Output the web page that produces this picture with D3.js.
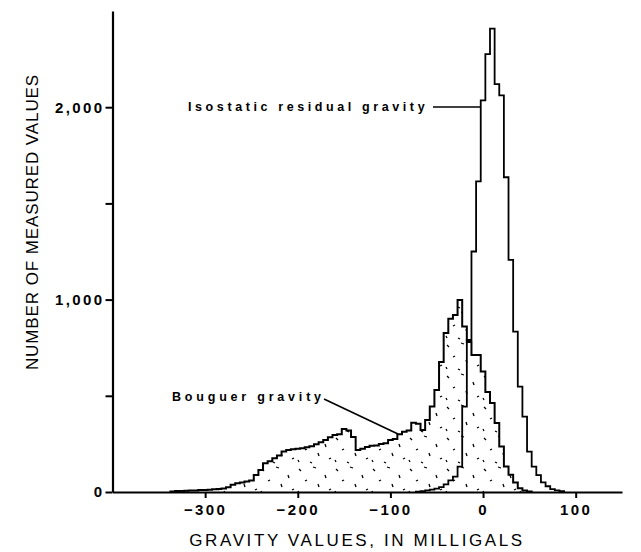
<!DOCTYPE html>
<html>
<head>
<meta charset="utf-8">
<script src="https://cdn.jsdelivr.net/npm/d3@7"></script>
<style>
  body { margin: 0; background: #fff; }
  svg { display: block; }
  text { font-family: "Liberation Sans", Arial, sans-serif; fill: #000; }
</style>
</head>
<body>
<svg id="chart" width="641" height="552"></svg>
<script>
// bin centres in milligals, 5 mgal wide
var bouguerBins = [-335,-330,-325,-320,-315,-310,-305,-300,-295,-290,-285,-280,-275,-270,-265,-260,-255,-250,-245,-240,
  -235,-230,-225,-220,-215,-210,-205,-200,-195,-190,-185,-180,-175,-170,-165,-160,-155,-150,-145,-140,
  -135,-130,-125,-120,-115,-110,-105,-100,-95,-90,-85,-80,-75,-70,-65,-60,-55,-50,-45,-40,
  -35,-30,-25,-20,-15,-10,-5,0,5,10,15,20,25,30,35,40,45,50];
var bouguerCounts = [3,5,5,6,8,8,10,10,12,14,15,18,25,38,45,50,55,60,88,114,
  150,160,175,190,210,218,222,225,228,232,238,248,258,270,285,296,300,328,320,286,
  218,225,234,240,242,250,254,270,275,300,313,320,360,355,322,374,444,530,676,827,
  900,920,998,860,780,712,712,626,520,463,358,236,132,90,50,20,8,3];

var isoBins = [-70,-65,-60,-55,-50,-45,-40,-35,-30,-25,-20,-15,-10,-5,0,5,10,15,20,25,
  30,35,40,45,50,55,60,65,70,75,80,85];
var isoCounts = [2,4,8,12,18,25,40,60,80,132,444,790,1250,1614,2035,2276,2408,2120,2061,1636,
  1206,834,548,392,210,132,88,50,30,15,8,4];

var xTicks = [-300,-200,-100,0,100];
var yTicks = [0,500,1000,1500,2000];
var yLabelled = [0,1000,2000];

var binWidth = 5;

var svg = d3.select('#chart');

var x = d3.scaleLinear().domain([-400,150]).range([112.5,622]);
var y = d3.scaleLinear().domain([0,2500]).range([492,11]);

// stipple used under the Bouguer histogram
var defs = svg.append('defs');
var pat = defs.append('pattern')
  .attr('id','stipple')
  .attr('patternUnits','userSpaceOnUse')
  .attr('width',37).attr('height',31);
var dashes = [[3,4,5,6],[17,2,20,3],[29,10,30,13],[9,16,11,15],[22,19,23,22],[33,25,35,24],[2,26,3,28],[14,28,16,29]];
dashes.forEach(function(d) {
  pat.append('line')
    .attr('x1',d[0]).attr('y1',d[1]).attr('x2',d[2]).attr('y2',d[3])
    .attr('stroke','#000').attr('stroke-width',1.3);
});

function steps(bins, counts) {
  var pts = [{v: bins[0]-binWidth/2, n: 0}];
  bins.forEach(function(b,i) { pts.push({v: b-binWidth/2, n: counts[i]}); });
  pts.push({v: bins[bins.length-1]+binWidth/2, n: 0});
  return pts;
}

var bouguer = steps(bouguerBins, bouguerCounts);
var iso = steps(isoBins, isoCounts);

var area = d3.area().curve(d3.curveStepAfter)
  .x(function(d) { return x(d.v); })
  .y0(y(0))
  .y1(function(d) { return y(d.n); });

var line = d3.line().curve(d3.curveStepAfter)
  .x(function(d) { return x(d.v); })
  .y(function(d) { return y(d.n); });

svg.append('path').datum(bouguer)
  .attr('d',area).attr('fill','url(#stipple)');
svg.append('path').datum(bouguer)
  .attr('d',line).attr('fill','none').attr('stroke','#000').attr('stroke-width',2);
svg.append('path').datum(iso)
  .attr('d',line).attr('fill','none').attr('stroke','#000').attr('stroke-width',1.8);

// axes
var tickFont = function(sel) {
  sel.attr('font-size',15).attr('font-weight','bold').attr('letter-spacing',2.4)
    .attr('font-family','"Liberation Sans", Arial, sans-serif');
};

var xAxis = d3.axisBottom(x).tickValues(xTicks).tickSize(6).tickSizeOuter(0).tickPadding(6);
var gx = svg.append('g').attr('transform','translate(0,'+y(0)+')').call(xAxis);
gx.select('.domain').attr('stroke-width',2.2);
gx.selectAll('.tick line').attr('stroke-width',2);
gx.selectAll('.tick text').call(tickFont);

var yAxis = d3.axisLeft(y).tickValues(yTicks).tickSize(7).tickSizeOuter(0).tickPadding(1)
  .tickFormat(function(d) { return yLabelled.indexOf(d) >= 0 ? d3.format(',')(d) : ''; });
var gy = svg.append('g').attr('transform','translate('+x(-400)+',0)').call(yAxis);
gy.select('.domain').attr('stroke-width',2.2);
gy.selectAll('.tick line').attr('stroke-width',2);
gy.selectAll('.tick text').call(tickFont);

// axis titles
svg.append('text')
  .attr('x',357).attr('y',546)
  .attr('text-anchor','middle')
  .attr('font-size',17).attr('letter-spacing',2.6)
  .text('GRAVITY VALUES, IN MILLIGALS');
svg.append('text')
  .attr('transform','translate(38,222) rotate(-90)')
  .attr('text-anchor','middle')
  .attr('font-size',17).attr('letter-spacing',0.9)
  .text('NUMBER OF MEASURED VALUES');

// curve labels with leader lines
svg.append('text')
  .attr('x',188).attr('y',111)
  .attr('font-size',12.5).attr('font-weight','bold').attr('letter-spacing',3.6)
  .text('Isostatic residual gravity');
svg.append('line')
  .attr('x1',433).attr('y1',107).attr('x2',x(-2.5)).attr('y2',107)
  .attr('stroke','#000').attr('stroke-width',1.6);

svg.append('text')
  .attr('x',172).attr('y',401)
  .attr('font-size',12.5).attr('font-weight','bold').attr('letter-spacing',3.8)
  .text('Bouguer gravity');
svg.append('line')
  .attr('x1',324).attr('y1',399).attr('x2',398).attr('y2',434)
  .attr('stroke','#000').attr('stroke-width',1.6);
</script>
</body>
</html>
